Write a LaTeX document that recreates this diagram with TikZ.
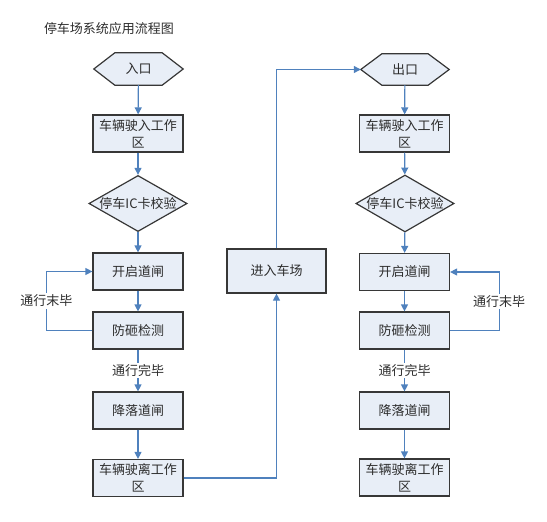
\documentclass[tikz,border=0pt]{standalone}
\usepackage{fontspec}
\setmainfont{Noto Sans CJK SC}
\usetikzlibrary{shapes.geometric,arrows.meta,backgrounds}
\definecolor{boxfill}{RGB}{232,238,247}
\definecolor{boxline}{RGB}{55,55,55}
\definecolor{flowblue}{RGB}{79,129,189}
\definecolor{txt}{RGB}{45,45,45}
\begin{document}
\begin{tikzpicture}[x=1pt,y=-1pt,
  every node/.style={font=\fontsize{13}{17}\selectfont, text=txt},
  stepbox/.style={draw=boxline, line width=1.2pt, fill=boxfill, minimum width=90pt, minimum height=37pt, inner sep=0pt, align=center},
  hexnode/.style={minimum width=89pt, minimum height=32pt, inner sep=0pt},
  hexshape/.style={draw=boxline, line width=1.2pt, fill=boxfill},
  decide/.style={diamond, draw=boxline, line width=1.2pt, fill=boxfill, minimum width=98pt, minimum height=56pt, aspect=1.75, inner sep=0pt},
  flow/.style={draw=flowblue, line width=1.2pt, -{Triangle[length=7pt,width=7pt]}},
  lbl/.style={fill=white, inner sep=1.5pt}
]
\useasboundingbox (0,0) rectangle (547,522);
\node (title) at (109,29) {停车场系统应用流程图};
% left column
\node[hexnode] (in) at (138.5,69) {入口};
\node[stepbox] (b1) at (138,133.5) {车辆驶入工作\\区};
\node[decide] (d1) at (138,203.5) {停车IC卡校验};
\node[stepbox] (open1) at (138,271.5) {开启道闸};
\node[stepbox] (check1) at (138,330.5) {防砸检测};
\node[stepbox] (lower1) at (138,410.5) {降落道闸};
\node[stepbox] (leave1) at (138,478) {车辆驶离工作\\区};
% middle
\node[stepbox, minimum width=99pt, minimum height=44pt] (enter) at (276.5,271) {进入车场};
% right column
\node[hexnode, minimum width=88pt, minimum height=31pt] (out) at (405,69.5) {出口};
\node[stepbox] (b2) at (404.5,133.5) {车辆驶入工作\\区};
\node[decide, minimum height=57pt] (d2) at (405,203.5) {停车IC卡校验};
\node[stepbox] (open2) at (404.5,272) {开启道闸};
\node[stepbox] (check2) at (404.5,330.5) {防砸检测};
\node[stepbox] (lower2) at (404.5,410.5) {降落道闸};
\node[stepbox] (leave2) at (404.5,477.5) {车辆驶离工作\\区};
% hexagons
\begin{scope}[on background layer]
\path[hexshape] (in.west) -- ([xshift=21pt]in.north west) -- ([xshift=-21pt]in.north east) -- (in.east) -- ([xshift=-21pt]in.south east) -- ([xshift=21pt]in.south west) -- cycle;
\path[hexshape] (out.west) -- ([xshift=21pt]out.north west) -- ([xshift=-21pt]out.north east) -- (out.east) -- ([xshift=-21pt]out.south east) -- ([xshift=21pt]out.south west) -- cycle;
\end{scope}
% left flows
\draw[flow] (in) -- (b1);
\draw[flow] (b1) -- (d1);
\draw[flow] (d1) -- (open1);
\draw[flow] (open1) -- (check1);
\draw[flow] (check1) -- node[lbl]{通行完毕} (lower1);
\draw[flow] (lower1) -- (leave1);
\draw[flow] (check1.west) -- ++(-46,0) |- node[lbl,pos=0.25]{通行末毕} (open1.west);
% connection
\draw[flow] (leave1.east) -| (enter.south);
\draw[flow] (enter.north) |- (out.west);
% right flows
\draw[flow] (out) -- (b2);
\draw[flow] (b2) -- (d2);
\draw[flow] (d2) -- (open2);
\draw[flow] (open2) -- (check2);
\draw[flow] (check2) -- node[lbl]{通行完毕} (lower2);
\draw[flow] (lower2) -- (leave2);
\draw[flow] (check2.east) -- ++(49,0) |- node[lbl,pos=0.25]{通行末毕} (open2.east);
\end{tikzpicture}
\end{document}
